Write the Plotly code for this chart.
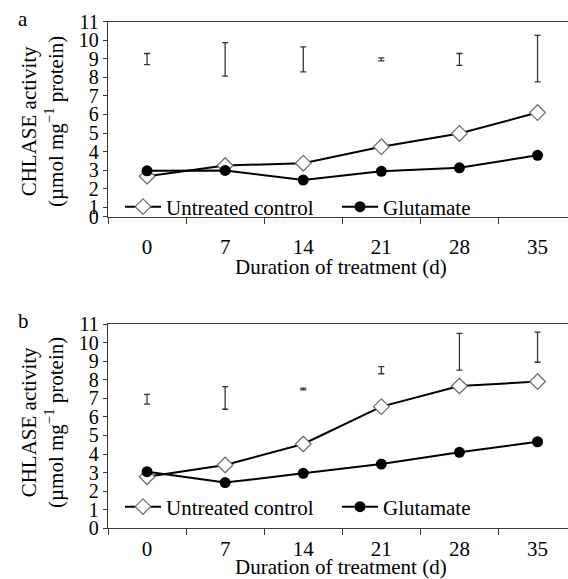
import plotly.graph_objects as go

W, H = 568, 579

days = ["0", "7", "14", "21", "28", "35"]

# Panel a
a_control = [2.68, 3.25, 3.38, 4.26, 4.98, 6.10]
a_glutamate = [2.97, 2.99, 2.47, 2.94, 3.13, 3.80]
a_lsd_center = [8.98, 8.96, 8.96, 8.96, 8.96, 9.00]
a_lsd_err = [0.30, 0.90, 0.67, 0.08, 0.32, 1.25]

# Panel b
b_control = [2.78, 3.41, 4.54, 6.55, 7.66, 7.90]
b_glutamate = [3.05, 2.46, 2.96, 3.46, 4.09, 4.66]
b_lsd_center = [6.95, 7.02, 7.50, 8.51, 9.51, 9.75]
b_lsd_err = [0.26, 0.61, 0.05, 0.19, 0.99, 0.81]

a_yticks = [0.5, 1, 2, 3, 4, 5, 6, 7, 8, 9, 10, 11]
a_yticktext = ["0", "1", "2", "3", "4", "5", "6", "7", "8", "9", "10", "11"]
b_yticks = [0, 1, 2, 3, 4, 5, 6, 7, 8, 9, 10, 11]
b_yticktext = ["0", "1", "2", "3", "4", "5", "6", "7", "8", "9", "10", "11"]

FONT = "Liberation Serif"
AXC = "#3a3a3a"

def py(p):
    return 1 - p / H

def px(p):
    return p / W

fig = go.Figure()

def add_panel(xa, ya, legend, control, glut, lsd_c, lsd_e):
    fig.add_trace(go.Scatter(
        x=days, y=control, mode="lines+markers", name="Untreated control",
        xaxis=xa, yaxis=ya, legend=legend,
        line=dict(color="black", width=2),
        marker=dict(symbol="diamond", size=12, color="white",
                    line=dict(color="#707070", width=1.3)),
    ))
    fig.add_trace(go.Scatter(
        x=days, y=glut, mode="lines+markers", name="Glutamate",
        xaxis=xa, yaxis=ya, legend=legend,
        line=dict(color="black", width=2),
        marker=dict(symbol="circle", size=11, color="black"),
    ))
    fig.add_trace(go.Scatter(
        x=days, y=lsd_c, mode="markers", showlegend=False,
        xaxis=xa, yaxis=ya,
        marker=dict(size=1, color="rgba(0,0,0,0)"),
        error_y=dict(type="data", array=lsd_e, visible=True,
                     color="#333333", thickness=1.3, width=3),
    ))

add_panel("x", "y", "legend", a_control, a_glutamate, a_lsd_center, a_lsd_err)
add_panel("x2", "y2", "legend2", b_control, b_glutamate, b_lsd_center, b_lsd_err)

xbase = dict(
    type="category", categoryorder="array", categoryarray=days,
    range=[-0.5, 5.39], domain=[px(108), 1],
    showline=True, linecolor=AXC, linewidth=1.3, mirror=True,
    ticks="outside", tickson="boundaries", ticklen=6, tickcolor=AXC, tickwidth=1.3,
    tickfont=dict(family=FONT, size=21, color="black"),
    showgrid=False, zeroline=False, fixedrange=True,
)
ybase = dict(
    showline=True, linecolor=AXC, linewidth=1.3, mirror=False,
    ticks="outside", ticklen=4, tickcolor=AXC, tickwidth=1.3,
    tickfont=dict(family=FONT, size=20, color="black"),
    showgrid=False, zeroline=False, fixedrange=True, tickmode="array",
)

legend_common = dict(orientation="h", xanchor="left", yanchor="middle",
                     bgcolor="rgba(0,0,0,0)", font=dict(family=FONT, size=21, color="black"),
                     itemwidth=36, entrywidth=166, entrywidthmode="pixels",
                     traceorder="normal")

fig.update_layout(
    width=W, height=H,
    margin=dict(l=0, r=0, t=0, b=0, autoexpand=False),
    paper_bgcolor="white", plot_bgcolor="white",
    font=dict(family=FONT, size=21, color="black"),
    xaxis=dict(xbase, anchor="y", ticklabelstandoff=11),
    yaxis=dict(ybase, anchor="x", domain=[py(216.7), py(21.5)], range=[0.5, 11],
               tickvals=a_yticks, ticktext=a_yticktext),
    xaxis2=dict(xbase, anchor="y2", ticklabelstandoff=1),
    yaxis2=dict(ybase, anchor="x2", domain=[py(528.3), py(324)], range=[0, 11],
                tickvals=b_yticks, ticktext=b_yticktext),
    legend=dict(legend_common, x=px(120), y=py(207)),
    legend2=dict(legend_common, x=px(120), y=py(507)),
    showlegend=True,
)

ytitle = "CHLASE activity<br>(µmol mg<sup>−1</sup> protein)"
anns = [
    dict(text="a", x=px(23), y=py(19), xanchor="center", yanchor="middle"),
    dict(text="b", x=px(23), y=py(321), xanchor="center", yanchor="middle"),
    dict(text=ytitle, x=px(42), y=py(122), textangle=-90, xanchor="center", yanchor="middle"),
    dict(text=ytitle, x=px(42), y=py(423), textangle=-90, xanchor="center", yanchor="middle"),
    dict(text="Duration of treatment (d)", x=px(341), y=py(267), xanchor="center", yanchor="middle"),
    dict(text="Duration of treatment (d)", x=px(341), y=py(567), xanchor="center", yanchor="middle"),
]
for a in anns:
    a.update(xref="paper", yref="paper", showarrow=False,
             font=dict(family=FONT, size=21, color="black"))
    fig.add_annotation(**a)

fig.write_html("out.html")
